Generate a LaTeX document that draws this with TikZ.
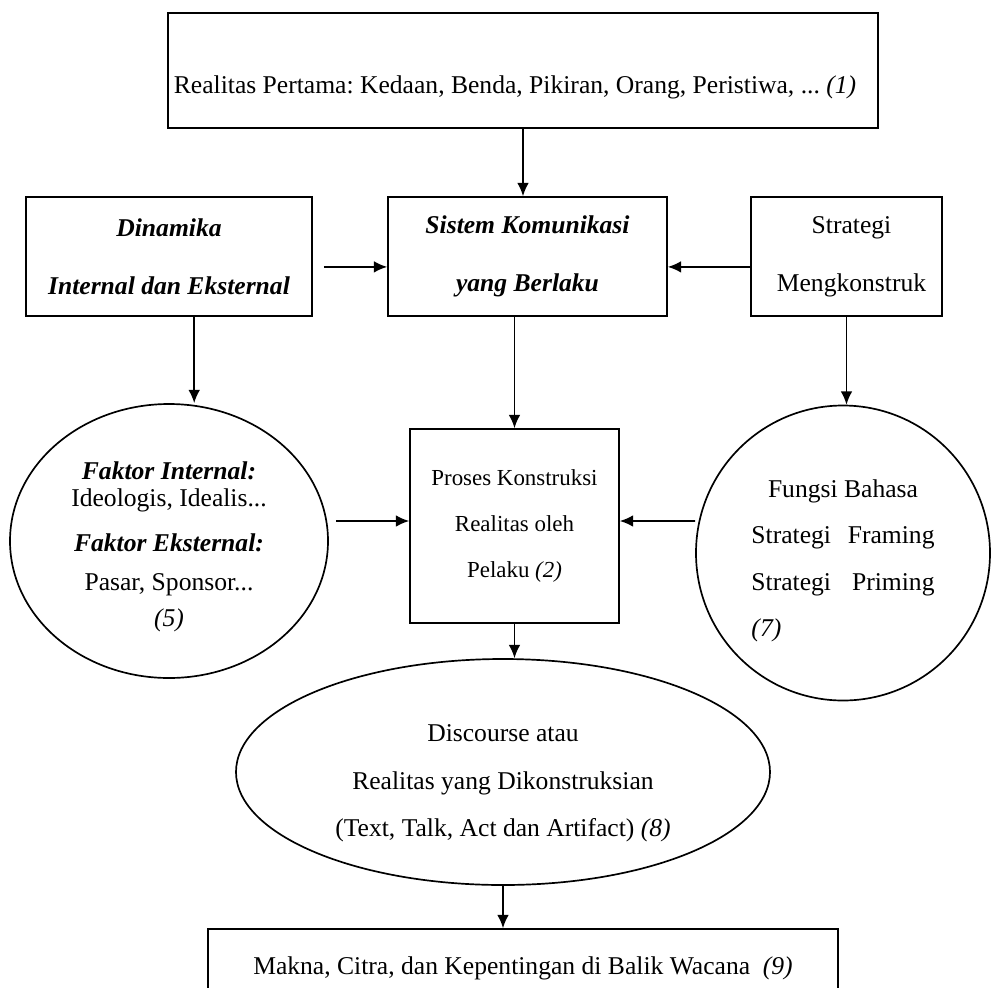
\documentclass[tikz,border=0pt]{standalone}
\usepackage{fontspec}
\setmainfont{Liberation Serif}
\usetikzlibrary{arrows.meta,shapes.geometric}
\frenchspacing

\newcommand{\pxu}{0.025cm}
\newcommand{\huruf}[2]{\fontsize{#1}{#2}\selectfont}

\begin{document}
\begin{tikzpicture}[x=0.025cm,y=-0.025cm,
  kotak/.style={draw,line width=1.2pt,inner sep=0pt,align=center},
  elips/.style={draw,ellipse,line width=1.2pt,inner sep=0pt,align=center},
  panah/.style={-{Latex[length=3.3mm,width=2.9mm]},line width=1.2pt},
  every node/.style={font=\huruf{18.2}{41}}]
  \path[use as bounding box] (0,0) rectangle (992,987);
  \clip (0,0) rectangle (992,987);

  \node[kotak,minimum width=710*\pxu,minimum height=115*\pxu,text height=1.25cm,text depth=0.11cm]
    (realitas) at (523,70.5) {Realitas Pertama: Kedaan, Benda, Pikiran, Orang, Peristiwa, ... \textit{(1)}\hspace{0.4cm}};

  \node[kotak,minimum width=286*\pxu,minimum height=119*\pxu,font=\huruf{18.2}{41}\bfseries\itshape]
    (dinamika) at (169,256.5) {Dinamika\\Internal dan Eksternal};
  \node[kotak,minimum width=279*\pxu,minimum height=119*\pxu,font=\huruf{18.2}{41}\bfseries\itshape]
    (sistem) at (527.5,256.5) {Sistem Komunikasi\\yang Berlaku};
  \node[kotak,minimum width=191*\pxu,minimum height=119*\pxu]
    (strategi) at (846.5,256.5) {\hspace{0.25cm}Strategi\\\hspace{0.25cm}Mengkonstruk};

  \node[elips,minimum width=318*\pxu,minimum height=274*\pxu,font=\huruf{18.2}{19.2}]
    (faktor) at (169,541) {\rule{0pt}{0.74cm}\textbf{\textit{Faktor Internal:}}\\Ideologis, Idealis...\\[0.45cm]
    \textbf{\textit{Faktor Eksternal:}}\\[0.3cm]Pasar, Sponsor...\\[0.225cm]\textit{(5)}};
  \node[kotak,minimum width=209*\pxu,minimum height=194*\pxu,font=\huruf{16.3}{33}]
    (proses) at (514.5,526) {Proses Konstruksi\\Realitas oleh\\Pelaku \textit{(2)}};
  \node[elips,minimum width=294*\pxu,minimum height=295*\pxu,font=\huruf{18.2}{33}]
    (fungsi) at (843,553) {\rule{0pt}{0.84cm}\makebox[4.575cm][c]{Fungsi Bahasa}\\
    \makebox[4.575cm][s]{Strategi Framing}\\
    \makebox[4.575cm][s]{Strategi Priming}\\
    \makebox[4.575cm][l]{\textit{(7)}}};

  \node[elips,minimum width=534*\pxu,minimum height=226*\pxu,font=\huruf{18.2}{33.5}]
    (diskursus) at (503,772) {\rule{0pt}{0.99cm}Discourse atau\\Realitas yang Dikonstruksian\\(Text, Talk, Act dan Artifact) \textit{(8)}};
  \node[kotak,minimum width=630*\pxu,minimum height=78*\pxu]
    (makna) at (523,968) {Makna, Citra, dan Kepentingan di Balik Wacana \ \textit{(9)}};

  \draw[panah] (realitas.south) -- (realitas.south |- sistem.north);
  \draw[panah] ([xshift=0.275cm,yshift=-0.26cm]dinamika.east) -- ([yshift=-0.26cm]sistem.west);
  \draw[panah] ([yshift=-0.26cm]strategi.west) -- ([yshift=-0.26cm]sistem.east);
  \draw[panah] ([xshift=0.63cm]dinamika.south) -- ([xshift=0.63cm]faktor.north);
  \draw[panah] (proses.north |- sistem.south) -- (proses.north);
  \draw[panah] (strategi.south) -- (strategi.south |- fungsi.north);
  \draw[panah] ([xshift=0.18cm,yshift=0.5cm]faktor.east) -- ([yshift=0.125cm]proses.west);
  \draw[panah] ([yshift=0.8cm]fungsi.west) -- ([yshift=0.125cm]proses.east);
  \draw[panah] (proses.south) -- (proses.south |- diskursus.north);
  \draw[panah] (diskursus.south) -- (diskursus.south |- makna.north);
\end{tikzpicture}
\end{document}
